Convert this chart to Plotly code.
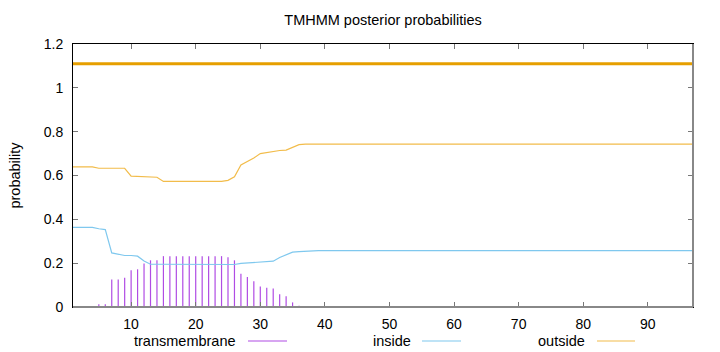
import plotly.graph_objects as go

# ---------------- data ----------------
positions = list(range(1, 98))

transmembrane = [
    0, 0, 0, 0,
    0.012, 0.012, 0.125, 0.125, 0.134, 0.168, 0.172, 0.198, 0.213, 0.213,
    0.232, 0.232, 0.232, 0.232, 0.232, 0.232, 0.232, 0.232, 0.232, 0.232,
    0.227, 0.213, 0.152, 0.137, 0.117, 0.094, 0.088, 0.084, 0.058, 0.049, 0.021, 0.006, 0.002,
    0, 0, 0, 0, 0, 0, 0, 0, 0, 0,
    0, 0, 0, 0, 0, 0, 0, 0, 0, 0,
    0, 0, 0, 0, 0, 0, 0, 0, 0, 0,
    0, 0, 0, 0, 0, 0, 0, 0, 0, 0,
    0, 0, 0, 0, 0, 0, 0, 0, 0, 0,
    0, 0, 0, 0, 0, 0, 0, 0, 0, 0,
]

inside = [
    0.363, 0.363, 0.363, 0.363,
    0.357, 0.353, 0.247, 0.241, 0.235, 0.235, 0.232, 0.210, 0.195, 0.195,
    0.195, 0.195, 0.195, 0.195, 0.195, 0.195, 0.195, 0.195, 0.195, 0.195,
    0.195, 0.194, 0.199, 0.201, 0.204, 0.207, 0.208, 0.209, 0.226, 0.238, 0.250, 0.253, 0.255,
    0.257, 0.257, 0.257, 0.257, 0.257, 0.257, 0.257, 0.257, 0.257, 0.257,
    0.257, 0.257, 0.257, 0.257, 0.257, 0.257, 0.257, 0.257, 0.257, 0.257,
    0.257, 0.257, 0.257, 0.257, 0.257, 0.257, 0.257, 0.257, 0.257, 0.257,
    0.257, 0.257, 0.257, 0.257, 0.257, 0.257, 0.257, 0.257, 0.257, 0.257,
    0.257, 0.257, 0.257, 0.257, 0.257, 0.257, 0.257, 0.257, 0.257, 0.257,
    0.257, 0.257, 0.257, 0.257, 0.257, 0.257, 0.257, 0.257, 0.257, 0.257,
]

outside = [
    0.639, 0.639, 0.639, 0.639,
    0.633, 0.633, 0.633, 0.633, 0.633, 0.597, 0.595, 0.593, 0.592, 0.592,
    0.573, 0.573, 0.573, 0.573, 0.573, 0.573, 0.573, 0.573, 0.573, 0.573,
    0.578, 0.594, 0.648, 0.664, 0.680, 0.700, 0.705, 0.709, 0.714, 0.716, 0.730, 0.741, 0.743,
    0.743, 0.743, 0.743, 0.743, 0.743, 0.743, 0.743, 0.743, 0.743, 0.743,
    0.743, 0.743, 0.743, 0.743, 0.743, 0.743, 0.743, 0.743, 0.743, 0.743,
    0.743, 0.743, 0.743, 0.743, 0.743, 0.743, 0.743, 0.743, 0.743, 0.743,
    0.743, 0.743, 0.743, 0.743, 0.743, 0.743, 0.743, 0.743, 0.743, 0.743,
    0.743, 0.743, 0.743, 0.743, 0.743, 0.743, 0.743, 0.743, 0.743, 0.743,
    0.743, 0.743, 0.743, 0.743, 0.743, 0.743, 0.743, 0.743, 0.743, 0.743,
]

# predicted topology bar drawn at the top (whole sequence outside)
topology_x = [1, 97]
topology_y = [1.11, 1.11]

x_ticks = [10, 20, 30, 40, 50, 60, 70, 80, 90]
y_ticks = [0, 0.2, 0.4, 0.6, 0.8, 1, 1.2]
y_ticklabels = ["0", "0.2", "0.4", "0.6", "0.8", "1", "1.2"]

legend_names = ["transmembrane", "inside", "outside"]

# ---------------- styles ----------------
C_TM = "#B04CE4"
C_IN = "#7FC8EE"
C_OUT = "#F2BC4A"
C_TOPO = "#E69F00"
FONT = "Liberation Sans, Arial, sans-serif"

# impulses from transmembrane values
imp_x, imp_y = [], []
for xv, yv in zip(positions, transmembrane):
    if yv > 0:
        imp_x += [xv, xv, None]
        imp_y += [0, yv, None]

fig = go.Figure()
fig.add_trace(go.Scatter(x=topology_x, y=topology_y, mode="lines",
                         line=dict(color=C_TOPO, width=3), hoverinfo="skip"))
fig.add_trace(go.Scatter(x=imp_x, y=imp_y, mode="lines",
                         line=dict(color=C_TM, width=1.2), name=legend_names[0]))
fig.add_trace(go.Scatter(x=positions, y=inside, mode="lines",
                         line=dict(color=C_IN, width=1.2), name=legend_names[1]))
fig.add_trace(go.Scatter(x=positions, y=outside, mode="lines",
                         line=dict(color=C_OUT, width=1.2), name=legend_names[2]))

L, R, T, B = 73, 27, 44, 45
W, H = 720, 352
pw = W - L - R
ph = H - T - B

fig.update_layout(
    width=W, height=H,
    margin=dict(l=L, r=R, t=T, b=B, pad=0),
    paper_bgcolor="white", plot_bgcolor="white",
    showlegend=False,
    font=dict(family=FONT, size=14, color="#000000"),
    title=dict(text="TMHMM posterior probabilities", x=(L + pw / 2) / W, xanchor="center",
               y=1 - 20 / H, yanchor="middle", font=dict(family=FONT, size=14.5, color="#000")),
)

fig.update_xaxes(range=[1, 97], tickvals=x_ticks, ticks="inside", ticklen=5,
                 tickcolor="#777777", mirror="allticks", showline=True,
                 linecolor="#000000", linewidth=1, showgrid=False, zeroline=False,
                 tickfont=dict(family=FONT, size=14, color="#000"), ticklabelstandoff=4)
fig.update_yaxes(range=[0, 1.2], tickvals=y_ticks, ticktext=y_ticklabels, ticks="inside",
                 ticklen=5, tickcolor="#777777", mirror="allticks", showline=True,
                 linecolor="#000000", linewidth=1, showgrid=False, zeroline=False,
                 tickfont=dict(family=FONT, size=14, color="#000"), ticklabelstandoff=6,
                 title=dict(text="probability", font=dict(family=FONT, size=14.5, color="#000"),
                            standoff=19))

# gray bottom / right border
fig.add_shape(type="line", xref="paper", yref="paper", x0=0, x1=1, y0=0, y1=0,
              line=dict(color="#888888", width=2))
fig.add_shape(type="line", xref="paper", yref="paper", x0=1, x1=1, y0=0, y1=1,
              line=dict(color="#888888", width=2))

# legend below the plot: text then sample line
legend_items = [
    (legend_names[0], 238, 248, 287, C_TM),
    (legend_names[1], 413, 422, 461, C_IN),
    (legend_names[2], 587, 597, 635, C_OUT),
]
ly_px = 341
for name, text_right, l0, l1, col in legend_items:
    fig.add_annotation(text=name, xref="paper", yref="paper",
                       x=(text_right - L) / pw, y=(H - B - ly_px) / ph,
                       xanchor="right", yanchor="middle", showarrow=False,
                       font=dict(family=FONT, size=14.5, color="#000"))
    fig.add_shape(type="line", xref="paper", yref="paper",
                  x0=(l0 - L) / pw, x1=(l1 - L) / pw,
                  y0=(H - B - ly_px) / ph, y1=(H - B - ly_px) / ph,
                  line=dict(color=col, width=1.2))

fig.write_html("out.html")
